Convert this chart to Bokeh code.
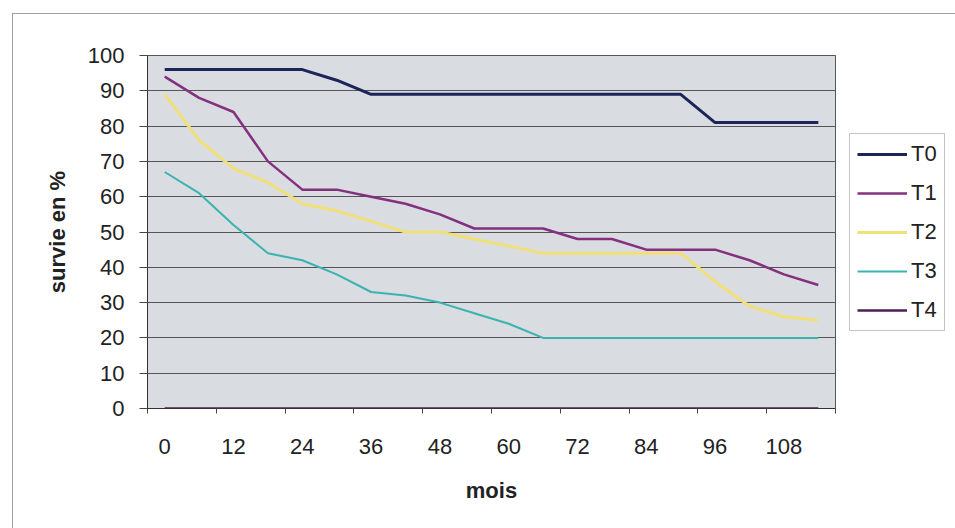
from bokeh.plotting import figure
from bokeh.models import FixedTicker, Legend, LegendItem, Range1d
from bokeh.embed import file_html
from bokeh.resources import INLINE

# ---- data ----
months = [0, 6, 12, 18, 24, 30, 36, 42, 48, 54, 60, 66, 72, 78, 84, 90, 96, 102, 108, 114]
T0 = [96, 96, 96, 96, 96, 93, 89, 89, 89, 89, 89, 89, 89, 89, 89, 89, 81, 81, 81, 81]
T1 = [94, 88, 84, 70, 62, 62, 60, 58, 55, 51, 51, 51, 48, 48, 45, 45, 45, 42, 38, 35]
T2 = [89, 76, 68, 64, 58, 56, 53, 50, 50, 48, 46, 44, 44, 44, 44, 44, 36, 29, 26, 25]
T3 = [67, 61, 52, 44, 42, 38, 33, 32, 30, 27, 24, 20, 20, 20, 20, 20, 20, 20, 20, 20]
T4 = [0, 0, 0, 0, 0, 0, 0, 0, 0, 0, 0, 0, 0, 0, 0, 0, 0, 0, 0, 0]
series_names = ["T0", "T1", "T2", "T3", "T4"]
x_tick_labels = [0, 12, 24, 36, 48, 60, 72, 84, 96, 108]
y_tick_labels = [0, 10, 20, 30, 40, 50, 60, 70, 80, 90, 100]
x_title = "mois"
y_title = "survie en %"

colors = ["#1d2458", "#84307f", "#f1df78", "#3bb3b0", "#4e1f55"]
widths = [3, 2.5, 3, 2, 2.5]

FONT = "Liberation Sans"

p = figure(frame_width=688, frame_height=353,
           x_range=Range1d(-3, 117), y_range=Range1d(0, 100),
           output_backend="svg", toolbar_location=None,
           min_border_left=134, min_border_right=0,
           min_border_top=41, min_border_bottom=120,
           background_fill_color="#d9dce1", border_fill_color="white",
           outline_line_color="#555555", outline_line_width=1)
p.styles = {"margin-left": "12px", "margin-top": "13px",
            "border-left": "1px solid #a0a0a0", "border-top": "1px solid #a0a0a0"}

# grid
p.xgrid.visible = False
p.ygrid.ticker = FixedTicker(ticks=y_tick_labels)
p.ygrid.grid_line_color = "#555555"
p.ygrid.grid_line_width = 1

# x axis: labels at category centres, tick marks at category boundaries
xa = p.xaxis[0]
xa.ticker = FixedTicker(ticks=x_tick_labels, minor_ticks=[t - 3 for t in x_tick_labels] + [117])
xa.major_tick_out = 0
xa.major_tick_in = 0
xa.minor_tick_out = 5
xa.minor_tick_in = 0
xa.minor_tick_line_color = "#444444"
xa.axis_line_color = "#333333"
xa.major_label_standoff = 25
xa.major_label_text_font = FONT
xa.major_label_text_font_size = "22px"
xa.major_label_text_color = "#222222"
xa.axis_label = x_title
xa.axis_label_text_font = FONT
xa.axis_label_text_font_style = "bold"
xa.axis_label_text_font_size = "22px"
xa.axis_label_text_color = "#222222"
xa.axis_label_standoff = 21

ya = p.yaxis[0]
ya.ticker = FixedTicker(ticks=y_tick_labels, minor_ticks=[])
ya.major_tick_out = 8
ya.major_tick_in = 0
ya.major_tick_line_color = "#444444"
ya.axis_line_color = "#333333"
ya.major_label_standoff = 15
ya.major_label_text_font = FONT
ya.major_label_text_font_size = "22px"
ya.major_label_text_color = "#222222"
ya.axis_label = y_title
ya.axis_label_text_font = FONT
ya.axis_label_text_font_style = "bold"
ya.axis_label_text_font_size = "22px"
ya.axis_label_text_color = "#222222"
ya.axis_label_standoff = 15

items = []
for name, ys, c, w in zip(series_names, [T0, T1, T2, T3, T4], colors, widths):
    r = p.line(months, ys, line_color=c, line_width=w)
    items.append(LegendItem(label=name, renderers=[r]))

legend = Legend(items=items, location="center_left",
                label_text_font=FONT, label_text_font_size="22px",
                label_text_color="#222222",
                glyph_width=50, glyph_height=20, label_height=20,
                spacing=13, padding=7, margin=14, label_standoff=4,
                border_line_color="#8a8a8a", border_line_width=1,
                background_fill_color="white", background_fill_alpha=1.0)
p.add_layout(legend, "right")

open("out.html", "w").write(file_html(p, INLINE))
